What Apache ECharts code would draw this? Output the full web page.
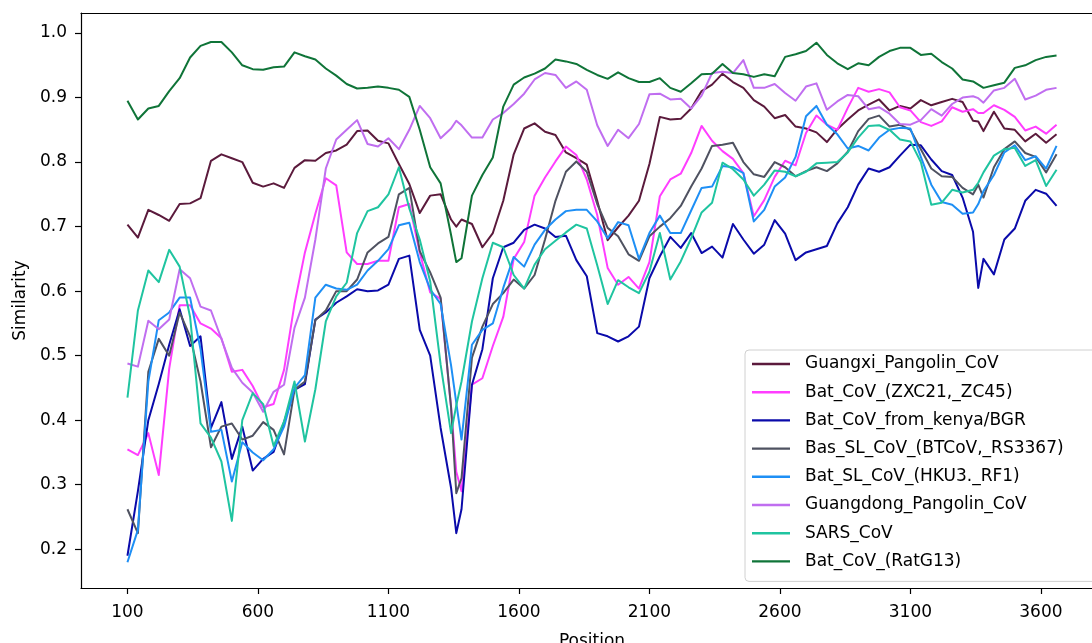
<!DOCTYPE html>
<html>
<head>
<meta charset="utf-8">
<script src="https://cdn.jsdelivr.net/npm/echarts@6/dist/echarts.min.js"></script>
<style>
  html, body { margin: 0; padding: 0; background: #ffffff; }
  #chart { width: 1092px; height: 643px; }
</style>
</head>
<body>
<div id="chart"></div>
<script>
// Window start positions along the genome (sliding-window similarity scan)
const positions = [100,140,180,220,260,300,340,380,420,460,500,540,580,620,660,700,740,780,820,860,900,940,980,1020,1060,1100,1140,1180,1220,1260,1300,1340,1360,1380,1420,1460,1500,1540,1580,1620,1660,1700,1740,1780,1820,1860,1900,1940,1980,2020,2060,2100,2140,2180,2220,2260,2300,2340,2380,2420,2460,2500,2540,2580,2620,2660,2700,2740,2780,2820,2860,2900,2940,2980,3020,3060,3100,3140,3180,3220,3260,3300,3340,3360,3380,3420,3460,3500,3540,3580,3620,3660];

const xTicks = [100, 600, 1100, 1600, 2100, 2600, 3100, 3600];
const yTicks = [0.2, 0.3, 0.4, 0.5, 0.6, 0.7, 0.8, 0.9, 1.0];

const seriesNames = [
  'Guangxi_Pangolin_CoV',
  'Bat_CoV_(ZXC21,_ZC45)',
  'Bat_CoV_from_kenya/BGR',
  'Bas_SL_CoV_(BTCoV,_RS3367)',
  'Bat_SL_CoV_(HKU3._RF1)',
  'Guangdong_Pangolin_CoV',
  'SARS_CoV',
  'Bat_CoV_(RatG13)'
];

const seriesColors = ['#5b1a3c', '#ff3dff', '#0a0aaa', '#4f5261', '#1e8ff5', '#c06ef0', '#1fc4a0', '#0f7438'];

const guangxiPangolin = [0.703,0.683,0.726,0.718,0.709,0.735,0.736,0.744,0.802,0.812,
  0.806,0.800,0.768,0.762,0.767,0.760,0.791,0.803,0.802,0.814,
  0.818,0.827,0.848,0.849,0.833,0.829,0.797,0.766,0.721,0.748,
  0.750,0.711,0.700,0.711,0.704,0.668,0.690,0.740,0.812,0.852,0.860,
  0.847,0.842,0.815,0.806,0.796,0.740,0.679,0.699,0.717,0.740,
  0.797,0.870,0.866,0.867,0.883,0.910,0.920,0.937,0.924,0.915,
  0.896,0.886,0.868,0.873,0.855,0.852,0.846,0.831,0.851,0.866,
  0.880,0.889,0.897,0.880,0.887,0.883,0.896,0.888,0.893,0.898,
  0.893,0.864,0.863,0.848,0.878,0.852,0.850,0.832,0.844,0.830,0.843];

const batZXC21 = [0.355,0.346,0.380,0.315,0.480,0.578,0.578,0.550,0.542,0.527,
  0.475,0.478,0.453,0.420,0.425,0.478,0.580,0.660,0.720,0.775,
  0.764,0.660,0.642,0.642,0.647,0.647,0.730,0.735,0.660,0.598,
  0.588,0.420,0.320,0.290,0.455,0.465,0.515,0.560,0.650,0.676,0.748,
  0.776,0.801,0.824,0.811,0.773,0.718,0.636,0.610,0.622,0.604,
  0.645,0.747,0.773,0.782,0.814,0.856,0.833,0.817,0.805,0.783,
  0.716,0.741,0.777,0.802,0.795,0.845,0.872,0.858,0.850,0.884,
  0.915,0.909,0.913,0.908,0.885,0.880,0.862,0.856,0.863,0.885,
  0.878,0.882,0.876,0.876,0.888,0.881,0.870,0.849,0.855,0.844,0.858];

const batKenya = [0.190,0.290,0.400,0.456,0.517,0.572,0.515,0.530,0.388,0.428,
  0.340,0.390,0.322,0.340,0.351,0.397,0.447,0.456,0.556,0.567,
  0.582,0.592,0.603,0.600,0.601,0.610,0.650,0.655,0.540,0.500,
  0.388,0.295,0.225,0.262,0.455,0.510,0.620,0.668,0.675,0.695,0.703,
  0.697,0.684,0.686,0.648,0.623,0.535,0.530,0.522,0.530,0.545,
  0.620,0.654,0.684,0.667,0.690,0.659,0.669,0.652,0.704,0.680,
  0.658,0.672,0.710,0.689,0.648,0.660,0.665,0.670,0.705,0.730,
  0.765,0.790,0.785,0.792,0.810,0.827,0.826,0.804,0.786,0.780,
  0.745,0.692,0.605,0.650,0.626,0.680,0.697,0.740,0.757,0.751,0.732];

const basRS3367 = [0.262,0.225,0.475,0.526,0.500,0.567,0.530,0.460,0.358,0.390,
  0.395,0.370,0.376,0.397,0.385,0.347,0.447,0.460,0.555,0.570,
  0.600,0.600,0.618,0.660,0.674,0.684,0.750,0.760,0.662,0.629,
  0.590,0.420,0.287,0.310,0.497,0.545,0.580,0.597,0.618,0.604,0.625,
  0.680,0.740,0.785,0.801,0.785,0.735,0.698,0.685,0.657,0.647,
  0.685,0.700,0.713,0.732,0.762,0.790,0.825,0.827,0.830,0.800,
  0.781,0.777,0.800,0.792,0.778,0.786,0.792,0.786,0.798,0.816,
  0.848,0.867,0.872,0.855,0.858,0.850,0.820,0.790,0.778,0.777,
  0.760,0.750,0.765,0.745,0.792,0.820,0.832,0.814,0.808,0.784,0.812];

const batHKU3 = [0.180,0.230,0.460,0.555,0.567,0.590,0.590,0.510,0.382,0.385,
  0.305,0.366,0.350,0.338,0.355,0.390,0.450,0.470,0.590,0.610,
  0.604,0.602,0.610,0.632,0.647,0.665,0.702,0.706,0.645,0.603,
  0.580,0.485,0.427,0.370,0.517,0.540,0.550,0.605,0.653,0.638,0.672,
  0.695,0.711,0.724,0.726,0.726,0.708,0.682,0.707,0.702,0.650,
  0.690,0.717,0.690,0.690,0.725,0.760,0.762,0.794,0.792,0.783,
  0.708,0.726,0.762,0.776,0.808,0.871,0.887,0.858,0.843,0.821,
  0.825,0.818,0.838,0.850,0.853,0.852,0.808,0.765,0.738,0.734,
  0.720,0.722,0.735,0.755,0.780,0.815,0.826,0.803,0.809,0.790,0.825];

const guangdongPangolin = [0.488,0.483,0.554,0.541,0.556,0.634,0.620,0.576,0.570,0.526,
  0.481,0.458,0.443,0.413,0.444,0.455,0.543,0.590,0.680,0.790,
  0.835,0.850,0.865,0.828,0.824,0.837,0.820,0.850,0.887,0.868,
  0.837,0.852,0.864,0.857,0.838,0.838,0.866,0.876,0.890,0.906,0.928,
  0.938,0.935,0.915,0.925,0.912,0.857,0.825,0.850,0.837,0.859,
  0.905,0.906,0.897,0.898,0.883,0.903,0.938,0.940,0.938,0.958,
  0.915,0.915,0.921,0.907,0.895,0.917,0.922,0.881,0.894,0.904,
  0.902,0.882,0.885,0.875,0.859,0.858,0.865,0.882,0.872,0.890,
  0.900,0.902,0.899,0.892,0.911,0.915,0.929,0.897,0.903,0.912,0.915];

const sarsCoV = [0.435,0.570,0.632,0.614,0.664,0.638,0.560,0.395,0.373,0.336,
  0.244,0.400,0.442,0.425,0.360,0.398,0.460,0.367,0.448,0.553,
  0.592,0.613,0.690,0.724,0.730,0.750,0.792,0.728,0.680,0.615,
  0.486,0.380,0.423,0.460,0.553,0.620,0.675,0.668,0.625,0.604,0.641,
  0.665,0.678,0.691,0.703,0.697,0.640,0.580,0.617,0.606,0.597,
  0.630,0.690,0.618,0.646,0.682,0.722,0.737,0.799,0.789,0.773,
  0.748,0.765,0.787,0.785,0.778,0.785,0.798,0.799,0.800,0.815,
  0.838,0.856,0.857,0.850,0.835,0.832,0.800,0.734,0.737,0.757,
  0.753,0.757,0.768,0.784,0.810,0.820,0.822,0.794,0.803,0.763,0.788];

const batRatG13 = [0.895,0.866,0.883,0.887,0.910,0.930,0.962,0.980,0.986,0.986,
  0.970,0.950,0.944,0.943,0.947,0.948,0.970,0.964,0.959,0.945,
  0.934,0.921,0.914,0.915,0.917,0.915,0.912,0.901,0.850,0.792,
  0.767,0.687,0.645,0.651,0.748,0.780,0.807,0.886,0.920,0.931,0.937,
  0.945,0.959,0.956,0.952,0.943,0.935,0.929,0.939,0.930,0.924,
  0.924,0.930,0.915,0.909,0.922,0.936,0.937,0.952,0.938,0.936,
  0.932,0.936,0.933,0.963,0.967,0.972,0.985,0.966,0.953,0.944,
  0.953,0.950,0.963,0.972,0.977,0.977,0.966,0.968,0.955,0.945,
  0.928,0.925,0.920,0.915,0.919,0.923,0.946,0.950,0.958,0.963,0.965];

const seriesValues = [guangxiPangolin, batZXC21, batKenya, basRS3367, batHKU3, guangdongPangolin, sarsCoV, batRatG13];

const FONT = 'DejaVu Sans';
const X_MIN = -78, X_MAX = 3838;

const chart = echarts.init(document.getElementById('chart'), null, { renderer: 'canvas' });

const series = seriesNames.map((name, i) => ({
  name: name,
  type: 'line',
  xAxisIndex: 0,
  data: positions.map((p, j) => [p, seriesValues[i][j]]),
  showSymbol: false,
  symbol: 'none',
  smooth: false,
  lineStyle: { width: 2, color: seriesColors[i], join: 'round' },
  itemStyle: { color: seriesColors[i] },
  emphasis: { disabled: true }
}));

const axisLineStyle = { color: '#000', width: 1.2 };

chart.setOption({
  animation: false,
  backgroundColor: '#ffffff',
  grid: {
    left: 81, top: 13, right: -11, bottom: 55,
    show: false, containLabel: false, outerBoundsMode: 'none'
  },
  xAxis: [{
    type: 'value',
    min: X_MIN, max: X_MAX,
    name: 'Position',
    nameLocation: 'middle',
    nameGap: 45,
    nameTextStyle: { fontFamily: FONT, fontSize: 17, color: '#000' },
    axisLine: { show: true, onZero: false, lineStyle: axisLineStyle },
    axisTick: { show: true, inside: false, length: 6, customValues: xTicks, lineStyle: axisLineStyle },
    axisLabel: { customValues: xTicks, margin: 16, fontFamily: FONT, fontSize: 17, color: '#000',
      formatter: v => String(v) },
    splitLine: { show: false }
  }, {
    // top frame line of the plot area
    type: 'value',
    position: 'top',
    min: X_MIN, max: X_MAX,
    axisLine: { show: true, onZero: false, lineStyle: axisLineStyle },
    axisTick: { show: false },
    axisLabel: { show: false },
    splitLine: { show: false }
  }],
  yAxis: {
    type: 'value',
    min: 0.14, max: 1.031,
    name: 'Similarity',
    nameLocation: 'middle',
    nameGap: 52,
    nameRotate: 90,
    nameTextStyle: { fontFamily: FONT, fontSize: 17, color: '#000' },
    axisLine: { show: true, onZero: false, lineStyle: axisLineStyle },
    axisTick: { show: true, inside: false, length: 6, customValues: yTicks, lineStyle: axisLineStyle },
    axisLabel: { customValues: yTicks, margin: 14, fontFamily: FONT, fontSize: 17, color: '#000',
      formatter: v => Number(v).toFixed(1) },
    splitLine: { show: false }
  },
  legend: {
    data: seriesNames,
    orient: 'vertical',
    left: 745, top: 350,
    icon: 'rect',
    itemWidth: 38, itemHeight: 2.4,
    itemGap: 8.2,
    padding: [4, 40, 10, 7],
    backgroundColor: 'rgba(255,255,255,0.8)',
    borderColor: '#d0d0d0', borderWidth: 1, borderRadius: 4,
    selectedMode: false,
    textStyle: { fontFamily: FONT, fontSize: 17, color: '#000', lineHeight: 20, padding: [0, 0, 0, 10] }
  },
  series: series
});
</script>
</body>
</html>
